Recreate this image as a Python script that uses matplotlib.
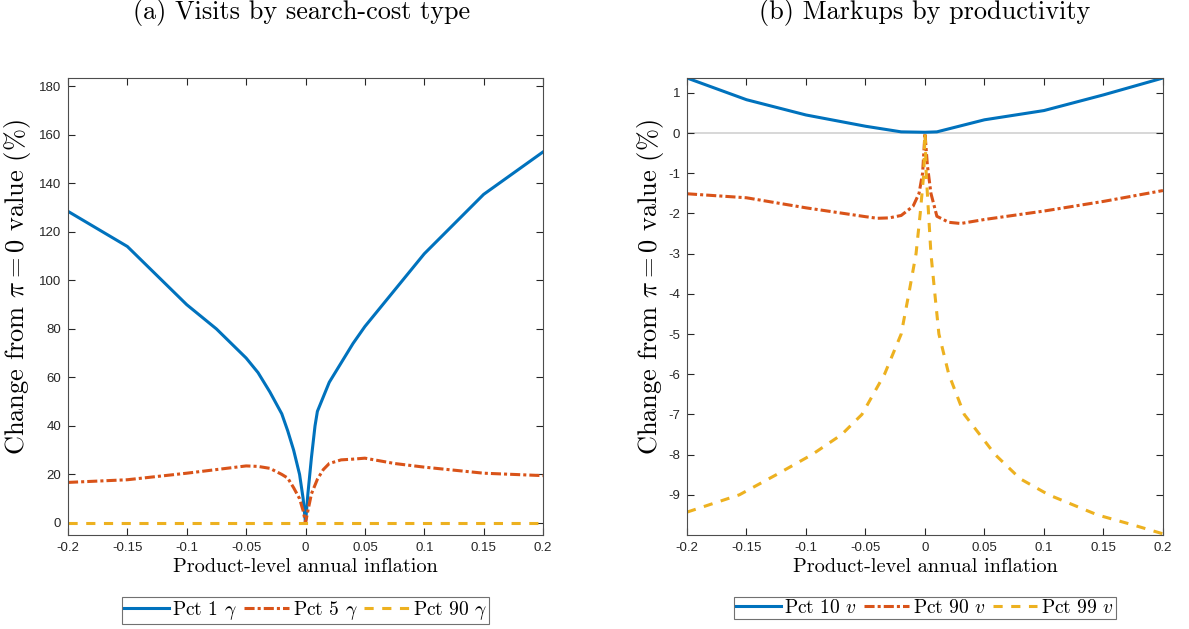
"""
Two-panel comparison of responses to product-level annual inflation:
  (a) visits by search-cost type, (b) markups by productivity.
"""

import numpy as np
import matplotlib
matplotlib.use("Agg")
import matplotlib.pyplot as plt
from matplotlib.ticker import FuncFormatter

plt.rcParams["mathtext.fontset"] = "cm"
plt.rcParams["axes.unicode_minus"] = False

BLUE, ORANGE, YELLOW = "#0072BD", "#D95319", "#EDB120"
SERIF = "cmr10"
TICKFONT = "Liberation Sans"
LW = 2.2
DASHDOT = (3.3, 1.0, 1.0, 1.0)
DASHED = (3.0, 2.8)

# ---- panel (a): visits by search-cost type ----
a_x_pct1 = [-0.2, -0.15, -0.1, -0.075, -0.05, -0.04, -0.03, -0.02, -0.015, -0.01,
            -0.005, -0.002, 0.0, 0.002, 0.005, 0.008, 0.01, 0.015, 0.02, 0.03,
            0.04, 0.05, 0.075, 0.1, 0.15, 0.2]
a_pct1 = [128.5, 114.0, 90.0, 80.0, 68.0, 62.0, 54.0, 45.0, 38.0, 30.0,
          20.0, 10.0, 0.0, 12.0, 27.0, 40.0, 46.0, 52.0, 58.0, 66.0,
          74.0, 81.0, 96.0, 111.0, 135.5, 153.0]

a_x_pct5 = [-0.2, -0.15, -0.1, -0.05, -0.04, -0.03, -0.02, -0.015, -0.01, -0.005,
            -0.002, 0.0, 0.002, 0.005, 0.01, 0.015, 0.02, 0.03, 0.04, 0.05,
            0.075, 0.1, 0.15, 0.2]
a_pct5 = [16.7, 17.8, 20.5, 23.5, 23.3, 22.5, 20.0, 18.5, 14.5, 10.0,
          5.0, 0.0, 5.0, 12.0, 18.0, 22.0, 24.5, 26.0, 26.3, 26.7,
          24.5, 23.0, 20.5, 19.5]

a_x_pct90 = [-0.2, 0.0, 0.2]
a_pct90 = [0.0, 0.0, 0.0]

# ---- panel (b): markups by productivity ----
b_x_pct10 = [-0.2, -0.15, -0.1, -0.05, -0.02, 0.0, 0.01, 0.05, 0.1, 0.15, 0.2]
b_pct10 = [1.37, 0.83, 0.45, 0.17, 0.03, 0.02, 0.03, 0.33, 0.56, 0.95, 1.37]

b_x_pct90 = [-0.2, -0.15, -0.1, -0.05, -0.04, -0.03, -0.02, -0.01, -0.005, -0.002,
             0.0, 0.002, 0.005, 0.01, 0.02, 0.03, 0.05, 0.1, 0.15, 0.2]
b_pct90 = [-1.51, -1.61, -1.86, -2.08, -2.12, -2.11, -2.05, -1.82, -1.5, -1.0,
           0.0, -0.8, -1.5, -2.07, -2.22, -2.25, -2.15, -1.94, -1.7, -1.43]

b_x_pct99 = [-0.2, -0.156, -0.125, -0.095, -0.07, -0.053, -0.034, -0.02, -0.0136,
             -0.0075, -0.004, -0.001, 0.0, 0.001, 0.003, 0.005, 0.0083, 0.0117,
             0.02, 0.033, 0.059, 0.08, 0.104, 0.145, 0.175, 0.2]
b_pct99 = [-9.43, -9.0, -8.5, -8.0, -7.5, -7.0, -6.0, -5.0, -4.0,
           -3.0, -2.0, -1.0, 0.0, -1.0, -2.0, -3.0, -4.0, -5.0,
           -6.0, -7.0, -8.0, -8.6, -9.0, -9.5, -9.75, -9.97]

X_TICKS = [-0.2, -0.15, -0.1, -0.05, 0, 0.05, 0.1, 0.15, 0.2]


def style_axis(ax, ylabel_x):
    ax.set_xlim(-0.2, 0.2)
    ax.set_xticks(X_TICKS)
    ax.xaxis.set_major_formatter(FuncFormatter(lambda v, _: f"{v:g}"))
    ax.tick_params(direction="in", top=True, right=True, length=5,
                   width=0.8, colors="0.15", labelsize=9.5, pad=5)
    for lab in ax.get_xticklabels() + ax.get_yticklabels():
        lab.set_fontfamily(TICKFONT)
    for sp in ax.spines.values():
        sp.set_color("0.3")
        sp.set_linewidth(0.8)
    ax.set_xlabel("Product-level annual inflation", family=SERIF,
                  fontsize=14.6, labelpad=3)
    ax.set_ylabel(r"Change from $\pi = 0$ value (%)", family=SERIF,
                  fontsize=19)
    ax.yaxis.set_label_coords(ylabel_x, 0.543)


def draw_series(ax, xs, ys, labels):
    h1, = ax.plot(xs[0], ys[0], color=BLUE, lw=LW, label=labels[0])
    h2, = ax.plot(xs[1], ys[1], color=ORANGE, lw=LW, dashes=DASHDOT, label=labels[1])
    h3, = ax.plot(xs[2], ys[2], color=YELLOW, lw=LW, dashes=DASHED, label=labels[2])
    leg = ax.legend(handles=[h1, h2, h3], loc="upper center",
                    bbox_to_anchor=(0.5, -0.136), ncol=3, frameon=True,
                    fancybox=False, edgecolor="0.3",
                    prop={"family": SERIF, "size": 14}, handlelength=2.3,
                    handletextpad=0.2, columnspacing=0.35, borderpad=0.1,
                    borderaxespad=0)
    leg.get_frame().set_linewidth(0.8)


fig = plt.figure(figsize=(11.89, 6.29), dpi=100)
ax_a = fig.add_axes([0.0572, 0.1494, 0.3995, 0.7266])
ax_b = fig.add_axes([0.5778, 0.1494, 0.4003, 0.7266])

# panel (a)
draw_series(ax_a, [a_x_pct1, a_x_pct5, a_x_pct90], [a_pct1, a_pct5, a_pct90],
            [r"Pct 1 $\gamma$", r"Pct 5 $\gamma$", r"Pct 90 $\gamma$"])
ax_a.set_ylim(-5, 183.5)
ax_a.set_yticks(np.arange(0, 181, 20))
style_axis(ax_a, -0.074)

# panel (b)
ax_b.axhline(0, color="0.82", lw=1.2, zorder=1)
draw_series(ax_b, [b_x_pct10, b_x_pct90, b_x_pct99], [b_pct10, b_pct90, b_pct99],
            [r"Pct 10 $v$", r"Pct 90 $v$", r"Pct 99 $v$"])
ax_b.set_ylim(-10, 1.37)
ax_b.set_yticks(np.arange(-9, 2, 1))
style_axis(ax_b, -0.044)

fig.text(0.2535, 0.980, "(a) Visits by search-cost type", family=SERIF,
         fontsize=18.9, ha="center", va="center")
fig.text(0.778, 0.980, "(b) Markups by productivity", family=SERIF,
         fontsize=18.9, ha="center", va="center")

fig.savefig("out.png", dpi=100)
